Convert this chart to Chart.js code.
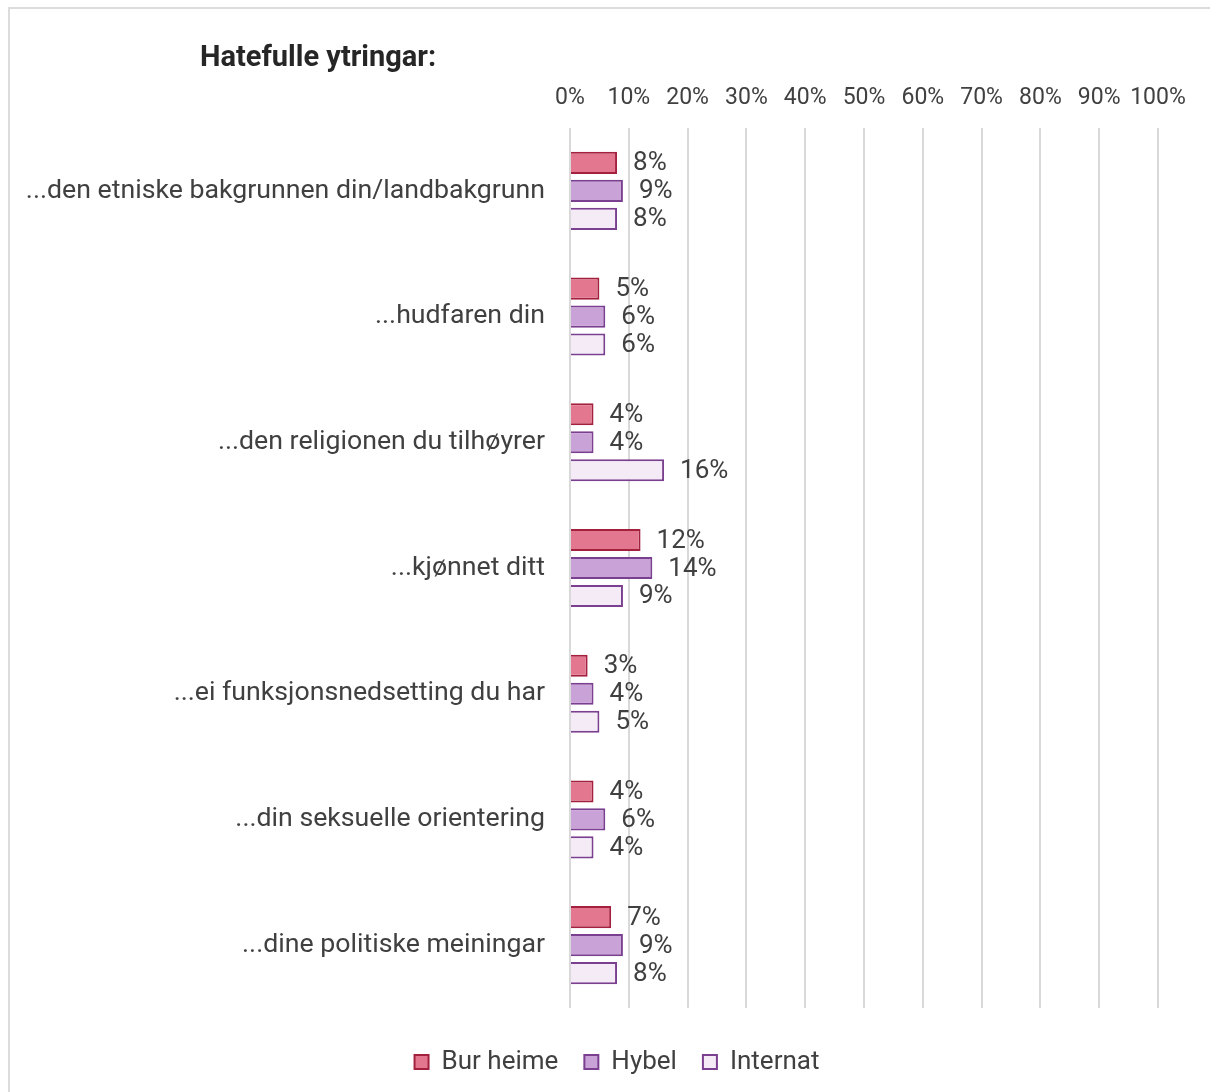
<!DOCTYPE html>
<html>
<head>
<meta charset="utf-8">
<script src="https://cdn.jsdelivr.net/npm/chart.js@4"></script>
<style>
  body { margin: 0; background: #fff; }
  #frame {
    position: absolute; left: 8px; top: 7px; width: 1210px; height: 1092px;
    border-top: 2px solid #dcdcdc; border-left: 2px solid #dcdcdc;
  }
  #wrap { position: absolute; left: 0; top: 0; width: 1210px; height: 1092px; }
</style>
</head>
<body>
<div id="frame"></div>
<div id="wrap"><canvas id="chart"></canvas></div>
<script>
// Data
const categories = [
    '...den etniske bakgrunnen din/landbakgrunn',
    '...hudfaren din',
    '...den religionen du tilhøyrer',
    '...kjønnet ditt',
    '...ei funksjonsnedsetting du har',
    '...din seksuelle orientering',
    '...dine politiske meiningar'
];
const seriesNames = ['Bur heime', 'Hybel', 'Internat'];
const burHeime = [8, 5, 4, 12, 3, 4, 7];
const hybel = [9, 6, 4, 14, 4, 6, 9];
const internat = [8, 6, 16, 9, 5, 4, 8];
const tickValues = [0, 10, 20, 30, 40, 50, 60, 70, 80, 90, 100];
const chartTitle = 'Hatefulle ytringar:';

const FONT = 'Roboto, "Noto Sans", sans-serif';
const TEXT = '#404040';

// value labels to the right of each bar
const valueLabels = {
    id: 'valueLabels',
    afterDatasetsDraw(chart) {
        const ctx = chart.ctx;
        ctx.save();
        ctx.font = '26px ' + FONT;
        ctx.fillStyle = TEXT;
        ctx.textAlign = 'left';
        ctx.textBaseline = 'middle';
        chart.data.datasets.forEach((ds, i) => {
            chart.getDatasetMeta(i).data.forEach((bar, j) => {
                ctx.fillText(ds.data[j] + '%', bar.x + 16, bar.y + 1);
            });
        });
        ctx.restore();
    }
};

// title sits at the left, above the labels
const leftTitle = {
    id: 'leftTitle',
    afterDraw(chart) {
        const ctx = chart.ctx;
        ctx.save();
        ctx.font = 'bold 29px ' + FONT;
        ctx.fillStyle = '#262626';
        ctx.textAlign = 'left';
        ctx.textBaseline = 'middle';
        ctx.fillText(chartTitle, 200, 59);
        ctx.restore();
    }
};

// legend is a bit right of the canvas centre in the original
const shiftLegend = {
    id: 'shiftLegend',
    afterLayout(chart) {
        if (chart.legend) {
            chart.legend.left += 38;
            chart.legend.right += 38;
        }
    }
};

const ctx = document.getElementById('chart').getContext('2d');
new Chart(ctx, {
    type: 'bar',
    data: {
        labels: categories,
        datasets: [{
            label: seriesNames[0],
            data: burHeime,
            backgroundColor: '#e2778f',
            borderColor: '#a3213f',
            borderWidth: 2
        }, {
            label: seriesNames[1],
            data: hybel,
            backgroundColor: '#c9a2d8',
            borderColor: '#7a3f8f',
            borderWidth: 2
        }, {
            label: seriesNames[2],
            data: internat,
            backgroundColor: '#f4ebf7',
            borderColor: '#7a3f8f',
            borderWidth: 2
        }]
    },
    options: {
        indexAxis: 'y',
        responsive: true,
        maintainAspectRatio: false,
        animation: false,
        categoryPercentage: 0.668,
        barPercentage: 0.79,
        layout: {
            padding: { top: 80, right: 52, bottom: 7, left: 0 }
        },
        scales: {
            x: {
                position: 'top',
                min: 0,
                max: 100,
                afterBuildTicks: scale => {
                    scale.ticks = tickValues.map(v => ({ value: v }));
                },
                afterFit: scale => { scale.height = 48; },
                grid: {
                    color: '#d9d9d9',
                    lineWidth: 2,
                    drawTicks: false
                },
                border: { display: false },
                ticks: {
                    padding: 16,
                    maxRotation: 0,
                    autoSkip: false,
                    color: TEXT,
                    font: { family: FONT, size: 23 },
                    callback: v => v + '%'
                }
            },
            y: {
                afterFit: scale => { scale.width = 570; },
                grid: { display: false, drawTicks: false },
                border: { display: false },
                ticks: {
                    padding: 25,
                    color: TEXT,
                    font: { family: FONT, size: 26.7 }
                }
            }
        },
        plugins: {
            legend: {
                position: 'bottom',
                title: {
                    display: true,
                    text: '',
                    font: { size: 10 },
                    padding: { top: 3, bottom: 0 }
                },
                labels: {
                    boxWidth: 14,
                    boxHeight: 14,
                    padding: 26,
                    color: TEXT,
                    font: { family: FONT, size: 26 }
                }
            },
            tooltip: { enabled: false }
        }
    },
    plugins: [valueLabels, leftTitle, shiftLegend]
});
</script>
</body>
</html>
